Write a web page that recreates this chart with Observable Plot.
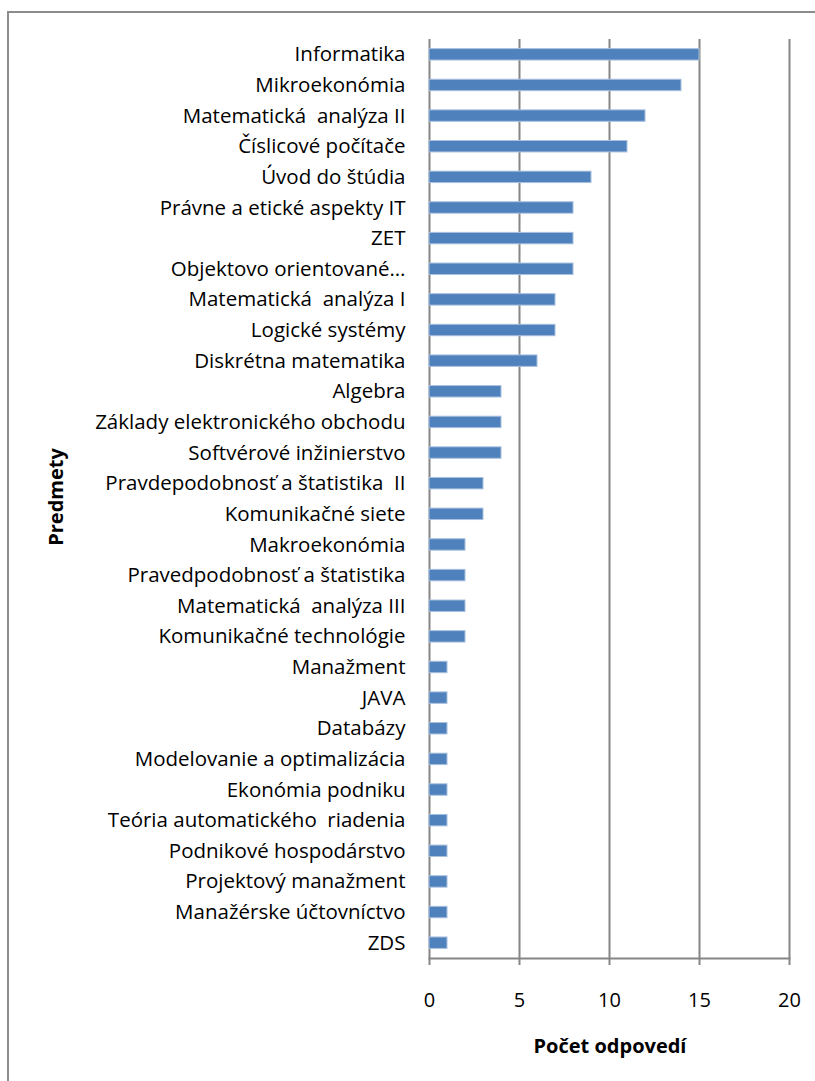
<!DOCTYPE html>
<html>
<head>
<meta charset="utf-8">
<script src="https://cdn.jsdelivr.net/npm/d3@7"></script>
<script src="https://cdn.jsdelivr.net/npm/@observablehq/plot@0.6"></script>
<style>
  html, body { margin: 0; padding: 0; background: #fff; overflow: hidden; width: 815px; height: 1081px; }
  #wrap { position: relative; width: 815px; height: 1081px; font-family: "Open Sans", Lato, sans-serif; }
  #frame { position: absolute; left: 7px; top: 11px; width: 900px; height: 1200px; border-left: 2px solid #8c8c8c; border-top: 2px solid #8c8c8c; }
  #chart { position: absolute; left: 0; top: 0; }
  #chart svg text { white-space: pre; }
  .title { position: absolute; font-weight: bold; font-size: 20px; color: #000; white-space: nowrap; }
  #xt { left: 610px; top: 1045px; transform: translate(-50%, -50%); }
  #yt { left: 55px; top: 497px; transform: translate(-50%, -50%) rotate(-90deg); }
</style>
</head>
<body>
<div id="wrap">
  <div id="frame"></div>
  <div id="chart"></div>
  <div class="title" id="xt">Počet odpovedí</div>
  <div class="title" id="yt">Predmety</div>
</div>
<script>
const subjects = [
  "Informatika", "Mikroekonómia", "Matematická  analýza II", "Číslicové počítače",
  "Úvod do štúdia", "Právne a etické aspekty IT", "ZET", "Objektovo orientované…",
  "Matematická  analýza I", "Logické systémy", "Diskrétna matematika", "Algebra",
  "Základy elektronického obchodu", "Softvérové inžinierstvo", "Pravdepodobnosť a štatistika  II",
  "Komunikačné siete", "Makroekonómia", "Pravedpodobnosť a štatistika", "Matematická  analýza III",
  "Komunikačné technológie", "Manažment", "JAVA", "Databázy", "Modelovanie a optimalizácia",
  "Ekonómia podniku", "Teória automatického  riadenia", "Podnikové hospodárstvo",
  "Projektový manažment", "Manažérske účtovníctvo", "ZDS"
];
const counts = [15, 14, 12, 11, 9, 8, 8, 8, 7, 7, 6, 4, 4, 4, 3, 3, 2, 2, 2, 2, 1, 1, 1, 1, 1, 1, 1, 1, 1, 1];
const xTicks = [0, 5, 10, 15, 20];

const data = subjects.map((s, i) => ({subject: s, count: counts[i]}));

const chart = Plot.plot({
  width: 815,
  height: 1081,
  marginLeft: 429,
  marginRight: 26,
  marginTop: 39,
  marginBottom: 123,
  style: {fontFamily: "'Open Sans', Lato, sans-serif", fontSize: "20px", color: "#000", background: "transparent"},
  x: {domain: [0, 20]},
  y: {domain: subjects, padding: 0, round: false},
  marks: [
    Plot.ruleX(xTicks, {x: d => d, stroke: "#868686", strokeWidth: 2}),
    Plot.barX(data, {x: "count", y: "subject", fill: "#4F81BD", stroke: "#A9C0DE", strokeWidth: 1, insetTop: 9.6, insetBottom: 9.6}),
    Plot.frame({anchor: "bottom", stroke: "#868686", strokeWidth: 2}),
    Plot.axisX({ticks: xTicks, tickSize: 7, tickPadding: 27, stroke: "#868686", strokeWidth: 2, label: null, fontSize: 20, fill: "#000"}),
    Plot.axisY({tickSize: 0, tickPadding: 24, label: null, fontSize: 20.5, fill: "#000", style: {letterSpacing: "0.4px"}})
  ]
});
document.getElementById("chart").appendChild(chart);
</script>
</body>
</html>
